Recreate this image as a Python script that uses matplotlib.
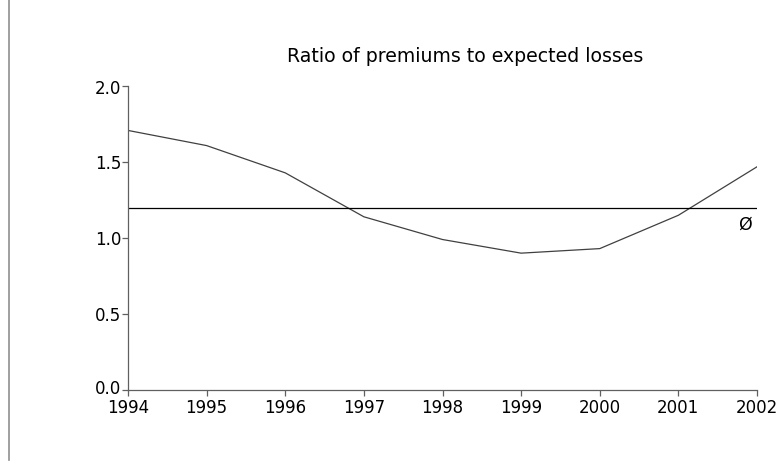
import matplotlib
matplotlib.use("Agg")
import matplotlib.pyplot as plt
from matplotlib.lines import Line2D
from matplotlib.transforms import ScaledTranslation

years = [1994, 1995, 1996, 1997, 1998, 1999, 2000, 2001, 2002]
ratio = [1.71, 1.61, 1.43, 1.14, 0.99, 0.90, 0.93, 1.15, 1.47]
average = 1.2
y_ticks = [0.0, 0.5, 1.0, 1.5, 2.0]

fig = plt.figure(figsize=(7.79, 4.65), dpi=100)
ax = fig.add_axes([128 / 779, 1 - 389.5 / 465, 629 / 779, 303 / 465])

ax.plot(years, ratio, color="#404040", linewidth=0.9)
ax.axhline(average, color="black", linewidth=0.9)
ax.text(2001.85, 1.09, "Ø", fontsize=12.5, ha="center", va="center")

ax.set_xlim(years[0], years[-1])
ax.set_ylim(0, 2.0)
ax.set_xticks(years)
ax.set_yticks(y_ticks)
ax.set_yticklabels([f"{v:.1f}" for v in y_ticks])

for side in ("top", "right"):
    ax.spines[side].set_visible(False)
for side in ("left", "bottom"):
    ax.spines[side].set_color("#606060")
    ax.spines[side].set_linewidth(0.9)
ax.tick_params(direction="out", length=4, width=0.9, color="#606060",
               labelsize=12)
ax.tick_params(axis="y", pad=1)
ax.tick_params(axis="x", pad=2.5)

# nudge the lowest y label up a few pixels, like the original
low = ax.get_yticklabels()[0]
low.set_transform(low.get_transform()
                  + ScaledTranslation(0, 3 / 100, fig.dpi_scale_trans))

fig.text(465 / 779, 1 - 57 / 465, "Ratio of premiums to expected losses",
         fontsize=13.6, ha="center", va="center")

fig.add_artist(Line2D([9 / 779, 9 / 779], [1 - 460 / 465, 1.0],
                      color="#909090", linewidth=1.2,
                      transform=fig.transFigure))

fig.savefig("out.png", dpi=100)
